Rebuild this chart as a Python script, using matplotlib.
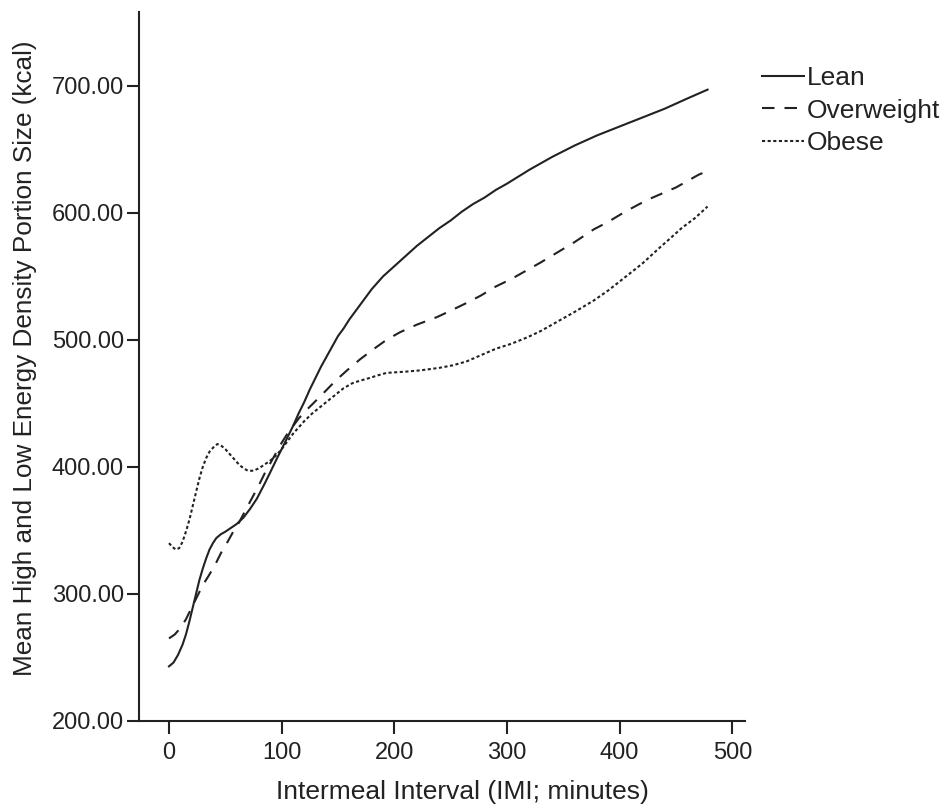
import matplotlib
matplotlib.use("Agg")
import matplotlib.pyplot as plt

plt.rcParams['font.family'] = ['Liberation Sans', 'DejaVu Sans']

# Mean portion size (kcal) against intermeal interval (minutes), per weight group
lean_x = [0, 4, 8, 12, 15, 18, 21, 24, 27, 30, 33, 36, 39, 42, 46, 50, 55, 60, 66, 72,
          78, 85, 90, 96, 100, 105, 110, 115, 120, 125, 130, 135, 140, 145, 150, 155,
          160, 165, 170, 175, 180, 190, 200, 210, 220, 230, 240, 250, 260, 270, 280,
          290, 300, 320, 340, 360, 380, 400, 420, 440, 460, 478]
lean_y = [243, 246, 252, 260, 268, 278, 289, 300, 311, 320, 328, 335, 340, 344, 347,
          349, 352, 355, 360, 367, 375, 387, 396, 407, 414, 423, 432, 442, 451, 461,
          470, 479, 487, 495, 503, 509, 516, 522, 528, 534, 540, 550, 558, 566, 574,
          581, 588, 594, 601, 607, 612, 618, 623, 634, 644, 653, 661, 668, 675, 682,
          690, 697]

over_x = [0, 5, 10, 15, 20, 25, 30, 35, 41, 46, 52, 57, 62, 68, 74, 80, 85, 90, 95,
          100, 105, 110, 115, 120, 128, 137, 148, 158, 170, 182, 193, 205, 220, 238,
          250, 264, 277, 290, 304, 318, 330, 345, 360, 377, 390, 405, 424, 450, 470,
          478]
over_y = [265, 268, 273, 280, 289, 298, 307, 314, 323, 332, 341, 349, 356, 366, 376,
          386, 395, 403, 411, 419, 426, 432, 438, 443, 450, 458, 468, 476, 485, 493,
          500, 506, 512, 518, 523, 529, 535, 542, 548, 555, 561, 569, 577, 587, 593,
          601, 610, 620, 630, 633]

obese_x = [0, 3, 6, 9, 12, 15, 18, 21, 24, 27, 30, 33, 36, 40, 43, 46, 50, 54, 58, 62,
           66, 70, 75, 80, 85, 90, 95, 100, 105, 110, 115, 120, 127, 134, 141, 148,
           155, 163, 170, 178, 185, 193, 210, 223, 240, 252, 264, 277, 290, 304, 318,
           330, 340, 350, 360, 377, 390, 400, 410, 420, 436, 445, 455, 467, 478]
obese_y = [340, 337, 335, 336, 341, 349, 358, 369, 380, 391, 400, 407, 412, 416, 418,
           417, 414, 410, 406, 402, 399, 397, 397, 399, 402, 405, 409, 414, 420, 426,
           431, 436, 442, 447, 452, 457, 462, 466, 468, 470, 472, 474, 475, 476, 478,
           480, 483, 488, 493, 497, 502, 507, 512, 517, 522, 531, 539, 546, 553, 560,
           573, 580, 588, 596, 605]

series_labels = ["Lean", "Overweight", "Obese"]
x_ticks = [0, 100, 200, 300, 400, 500]
y_ticks = [200, 300, 400, 500, 600, 700]

ink = '#222222'

fig = plt.figure(figsize=(9.47, 8.10), dpi=100)
ax = fig.add_axes([0.1468, 0.1099, 0.787 - 0.1468, 0.985 - 0.1099])

lw = 1.5
ax.plot(lean_x, lean_y, color=ink, lw=lw, ls='-', label=series_labels[0])
ax.plot(over_x, over_y, color=ink, lw=lw, ls=(0, (6, 4.8)), label=series_labels[1])
ax.plot(obese_x, obese_y, color=ink, lw=lw, ls=(0, (1.5, 1.2)), label=series_labels[2])

ax.set_xlim(-26.6, 511.5)
ax.set_ylim(200, 758)
ax.set_xticks(x_ticks)
ax.set_yticks(y_ticks)
ax.set_yticklabels([f"{v:.2f}" for v in y_ticks])

for side in ('top', 'right'):
    ax.spines[side].set_visible(False)
for side in ('left', 'bottom'):
    ax.spines[side].set_linewidth(1.5)
    ax.spines[side].set_color(ink)

ax.tick_params(axis='both', direction='out', length=9, width=1.5, color=ink,
               labelsize=17, labelcolor=ink, pad=2)
ax.tick_params(axis='x', pad=6)

ax.set_xlabel("Intermeal Interval (IMI; minutes)", fontsize=19, color=ink)
ax.xaxis.set_label_coords(0.534, -0.083)
ax.set_ylabel("Mean High and Low Energy Density Portion Size (kcal)", fontsize=18.8,
              color=ink)
ax.yaxis.set_label_coords(-0.1675, 0.512)

fig.legend(loc='upper left', bbox_to_anchor=(0.8046, 0.9185), frameon=False,
           fontsize=19, handlelength=1.6, handletextpad=0.1, labelspacing=0.33,
           borderpad=0, borderaxespad=0, labelcolor=ink)

fig.savefig("out.png", dpi=100)
